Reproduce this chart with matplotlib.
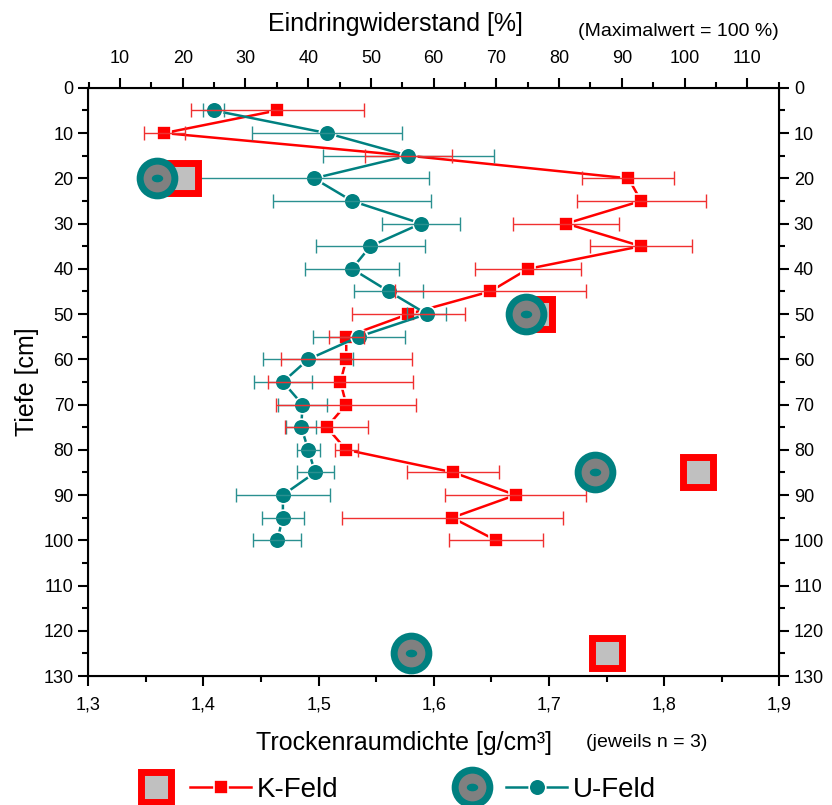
import matplotlib.pyplot as plt
import numpy as np
from matplotlib.lines import Line2D
from matplotlib.legend_handler import HandlerBase
from matplotlib.markers import MarkerStyle
from matplotlib.ticker import MultipleLocator
from matplotlib.transforms import Affine2D

plt.rcParams['font.family'] = ['Liberation Sans', 'DejaVu Sans']

# Trockenraumdichte (g/cm3), Mittelwert und Fehler, je Tiefe
depth = [5, 10, 15, 20, 25, 30, 35, 40, 45, 50, 55, 60, 65, 70, 75, 80, 85, 90, 95, 100]
k_dens = [1.464, 1.366, 1.578, 1.769, 1.780, 1.715, 1.780, 1.682, 1.649, 1.578,
          1.524, 1.524, 1.519, 1.524, 1.507, 1.524, 1.617, 1.671, 1.616, 1.654]
k_err = [0.075, 0.018, 0.038, 0.040, 0.056, 0.046, 0.044, 0.046, 0.083, 0.049,
         0.015, 0.057, 0.063, 0.061, 0.036, 0.010, 0.040, 0.061, 0.096, 0.041]
u_dens = [1.409, 1.507, 1.578, 1.496, 1.529, 1.589, 1.545, 1.529, 1.561, 1.594,
          1.535, 1.491, 1.469, 1.486, 1.485, 1.491, 1.497, 1.469, 1.469, 1.464]
u_err = [0.009, 0.065, 0.074, 0.100, 0.069, 0.034, 0.047, 0.041, 0.030, 0.017,
         0.040, 0.039, 0.025, 0.021, 0.013, 0.010, 0.016, 0.041, 0.018, 0.021]

# Eindringwiderstand (%)
pr_depth = [20, 50, 85, 125]
k_pr = [20.0, 76.5, 102.2, 87.6]
u_pr = [15.9, 74.7, 85.7, 56.4]

red = '#ff0000'
teal = '#008080'


class PairHandler(HandlerBase):
    # big symbol left, small line+marker right
    def create_artists(self, legend, orig_handle, xdescent, ydescent,
                       width, height, fontsize, trans):
        *bigs, small = orig_handle
        y = height / 2 - ydescent
        x0 = -xdescent
        arts = []
        for b in bigs:
            a = Line2D([x0 + 0.14 * width], [y])
            a.update_from(b)
            arts.append(a)
        ln = Line2D([x0 + 0.45 * width, x0 + width], [y, y])
        ln.update_from(small)
        ln.set_marker('None')
        mk = Line2D([x0 + 0.725 * width], [y])
        mk.update_from(small)
        mk.set_linestyle('None')
        arts += [ln, mk]
        for a in arts:
            a.set_transform(trans)
            a.set_clip_on(False)
            a.set_clip_box(None)
        return arts


fig = plt.figure(figsize=(8.32, 8.05), dpi=100)
ax = fig.add_axes([0.1061, 0.1602, 0.8305, 0.7307])

k_line, = ax.plot(k_dens, depth, '-s', color=red, ms=10, mec='white', mew=1.2, lw=1.8, zorder=2)
u_line, = ax.plot(u_dens, depth, '-o', color=teal, ms=12, mec='white', mew=1.2, lw=1.8, zorder=3)
ax.errorbar(u_dens, depth, xerr=u_err, fmt='none', ecolor='#2a9090', elinewidth=1,
            capsize=5, capthick=1, zorder=4)
ax.errorbar(k_dens, depth, xerr=k_err, fmt='none', ecolor='#f03030', elinewidth=1,
            capsize=5, capthick=1, zorder=5)

ax.set_xlim(1.3, 1.9)
ax.set_ylim(130, 0)
xt = np.arange(1.3, 1.91, 0.1)
ax.set_xticks(xt)
ax.set_xticklabels([f'{v:.1f}'.replace('.', ',') for v in xt])
ax.xaxis.set_minor_locator(MultipleLocator(0.05))
ax.set_yticks(np.arange(0, 131, 10))
ax.yaxis.set_minor_locator(MultipleLocator(5))
ax.tick_params(which='both', direction='out', top=False, right=True,
               labelright=True, width=1.5, labelsize=13)
ax.tick_params(which='major', length=7)
ax.tick_params(which='minor', length=4)
ax.tick_params(axis='x', which='major', pad=8)
for s in ax.spines.values():
    s.set_linewidth(1.5)

ax.set_xlabel('Trockenraumdichte [g/cm³]', fontsize=18)
ax.xaxis.set_label_coords(0.457, -0.094)
ax.set_ylabel('Tiefe [cm]', fontsize=18)
ax.yaxis.set_label_coords(-0.072, 0.5)

ax2 = ax.twiny()
ax2.set_xlim(4.94, 115.1)
ax2.set_xticks(np.arange(10, 111, 10))
ax2.xaxis.set_minor_locator(MultipleLocator(5))
ax2.tick_params(which='both', direction='out', width=1.5, labelsize=13)
ax2.tick_params(which='major', length=7, pad=8)
ax2.tick_params(which='minor', length=4)
ax2.set_xlabel('Eindringwiderstand [%]', fontsize=18)
ax2.xaxis.set_label_coords(0.445, 1.097)

k_big, = ax2.plot(k_pr, pr_depth, ls='none', marker='s', ms=21.5, mfc='#c0c0c0',
                  mec=red, mew=5, zorder=6, clip_on=False)
u_big, = ax2.plot(u_pr, pr_depth, ls='none', marker='o', ms=25, mfc='#808080',
                  mec=teal, mew=5, zorder=7, clip_on=False)
dot = MarkerStyle('o', transform=Affine2D().scale(1.6, 1.0))
u_dot, = ax2.plot(u_pr, pr_depth, ls='none', marker=dot, ms=4.5, color=teal,
                  zorder=8, clip_on=False)

fig.text(678 / 832, 1 - 31 / 805, '(Maximalwert = 100 %)', fontsize=14,
         ha='center', va='center')
fig.text(647 / 832, 1 - 742 / 805, '(jeweils n = 3)', fontsize=14,
         ha='center', va='center')

fig.legend(handles=[(k_big, k_line), (u_big, u_dot, u_line)],
           labels=['K-Feld', 'U-Feld'], handler_map={tuple: PairHandler()},
           ncol=2, frameon=False, fontsize=20, handlelength=4, handletextpad=0.2,
           columnspacing=4.25, loc='center left', bbox_to_anchor=(140 / 832, 15 / 805),
           borderaxespad=0, borderpad=0)

fig.savefig('out.png', dpi=100)
